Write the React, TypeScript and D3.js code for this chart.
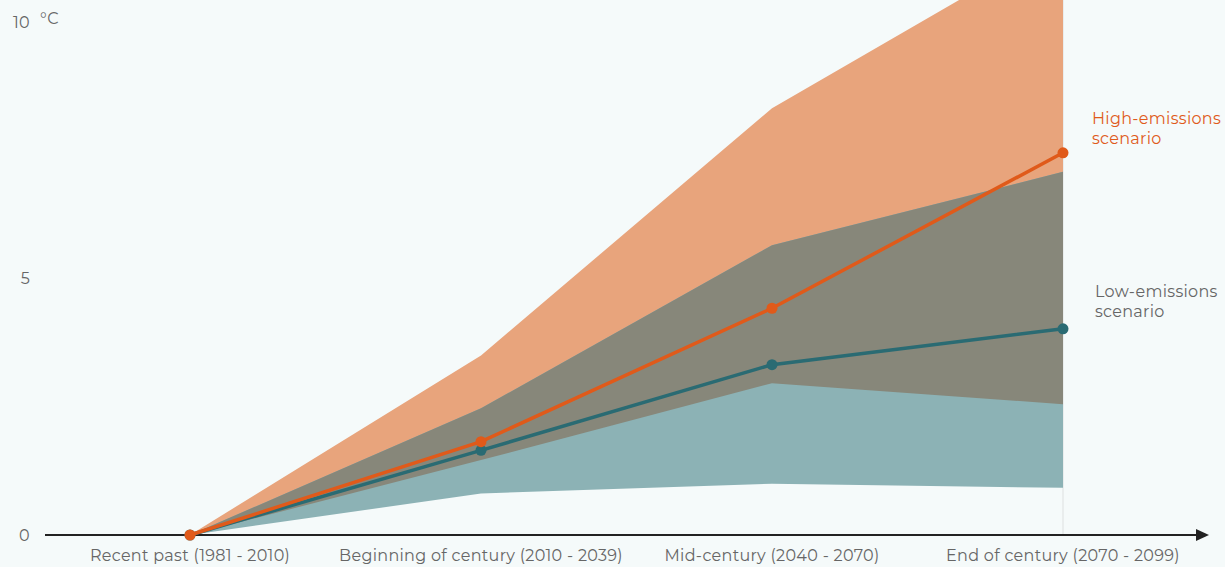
import React from "react";
import * as d3 from "d3";

const categories = [
  "Recent past (1981 - 2010)",
  "Beginning of century (2010 - 2039)",
  "Mid-century (2040 - 2070)",
  "End of century (2070 - 2099)",
];
const highMedian = [0, 1.82, 4.42, 7.45];
const highUpper = [0, 3.5, 8.32, 11.6];
const highLower = [0, 1.46, 2.96, 2.55];
const lowMedian = [0, 1.65, 3.32, 4.02];
const lowUpper = [0, 2.47, 5.65, 7.08];
const lowLower = [0, 0.81, 1.0, 0.92];
const yTicks = [0, 5, 10];

const W = 1225;
const H = 567;
const FONT = "Montserrat, 'Open Sans', 'Noto Sans', sans-serif";

export default function App() {
  const x = d3.scalePoint<string>().domain(categories).range([190, 1063]);
  const y = d3.scaleLinear().domain([0, 10]).range([535, 22]);
  const idx = categories.map((_, i) => i);
  const area = (lo: number[], hi: number[]) =>
    d3
      .area<number>()
      .x((i) => x(categories[i])!)
      .y0((i) => y(lo[i]))
      .y1((i) => y(hi[i]))(idx)!;
  const line = (v: number[]) =>
    d3
      .line<number>()
      .x((i) => x(categories[i])!)
      .y((i) => y(v[i]))(idx)!;
  const ovLo = idx.map((i) => Math.max(highLower[i], lowLower[i]));
  const ovHi = idx.map((i) => Math.min(highUpper[i], lowUpper[i]));
  const xEnd = x(categories[3])!;
  const ts = { fontSize: 16, letterSpacing: 0.3 } as const;
  return (
    <div style={{ position: "fixed", left: 0, top: 0, width: W, height: H }}>
      <svg width={W} height={H} style={{ display: "block", background: "#f5fafa", fontFamily: FONT }}>
        <defs>
          <clipPath id="plot">
            <rect x={0} y={0} width={W} height={535} />
          </clipPath>
        </defs>
        <line x1={xEnd} x2={xEnd} y1={0} y2={535} stroke="#dde0e0" strokeWidth={1} />
        <g clipPath="url(#plot)">
          <path d={area(highLower, highUpper)} fill="#e8a47c" />
          <path d={area(lowLower, lowUpper)} fill="#8cb2b5" />
          <path d={area(ovLo, ovHi)} fill="#87877a" />
        </g>
        <line x1={45} x2={1198} y1={y(0)} y2={y(0)} stroke="#222" strokeWidth={2} />
        <path d={`M1209,${y(0)} L1196,${y(0) - 6} L1196,${y(0) + 6} Z`} fill="#222" />
        <path d={line(lowMedian)} fill="none" stroke="#2a6b73" strokeWidth={3.5} />
        {idx.map((i) => (
          <circle key={"l" + i} cx={x(categories[i])} cy={y(lowMedian[i])} r={5.5} fill="#2a6b73" />
        ))}
        <path d={line(highMedian)} fill="none" stroke="#e05a1a" strokeWidth={3.5} />
        {idx.map((i) => (
          <circle key={"h" + i} cx={x(categories[i])} cy={y(highMedian[i])} r={5.5} fill="#e05a1a" />
        ))}
        {yTicks.map((t) => (
          <text key={t} x={30} y={y(t)} dy="0.35em" textAnchor="end" {...ts} fill="#666">
            {t}
          </text>
        ))}
        <text x={40} y={24} {...ts} fill="#666">
          °C
        </text>
        {categories.map((c) => (
          <text key={c} x={x(c)} y={561} textAnchor="middle" {...ts} fill="#666">
            {c}
          </text>
        ))}
        <text x={1092} y={124} {...ts} fill="#e05a1a">
          <tspan x={1092}>High-emissions</tspan>
          <tspan x={1092} dy={20}>scenario</tspan>
        </text>
        <text x={1095} y={297} {...ts} fill="#666">
          <tspan x={1095}>Low-emissions</tspan>
          <tspan x={1095} dy={20}>scenario</tspan>
        </text>
      </svg>
    </div>
  );
}
